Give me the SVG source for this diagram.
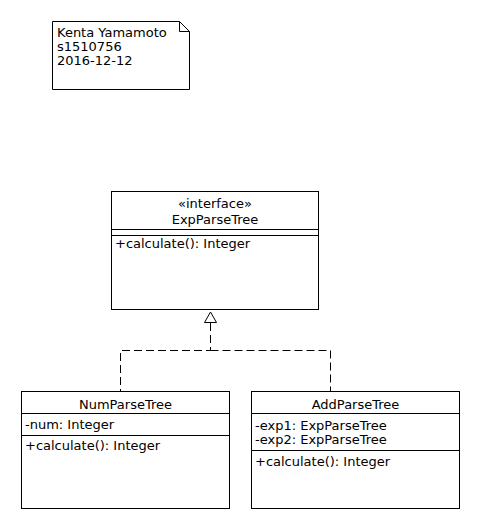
<svg xmlns="http://www.w3.org/2000/svg" width="480" height="530" viewBox="0 0 480 530">
<style>
.box{fill:#fff;stroke:#000;stroke-width:1}
.ln{stroke:#000;stroke-width:1;fill:none}
.dash{stroke:#000;stroke-width:1;fill:none;stroke-dasharray:8,4}
text{font-family:"DejaVu Sans","Liberation Sans",sans-serif;font-size:13px;fill:#000}
.c{text-anchor:middle}
</style>
<rect width="480" height="530" fill="#fff"/>
<g id="note">
<path class="box" d="M52.5,21.5 H179.5 L189.5,31.5 V89.5 H52.5 Z"/>
<path class="ln" d="M179.5,21.5 V31.5 H189.5"/>
<text x="57" y="36.5">Kenta Yamamoto</text>
<text x="57" y="50.5">s1510756</text>
<text x="57" y="64.5">2016-12-12</text>
</g>
<g id="connectors">
<path class="dash" d="M210.5,323 V350.5 H120.5 V391"/>
<path class="dash" d="M210.5,350.5 H330.5 V391"/>
<path class="box" d="M210.5,312 L216.5,322.5 H204.5 Z"/>
</g>
<g id="ExpParseTree">
<rect class="box" x="111.5" y="191.5" width="207" height="118"/>
<line class="ln" x1="111.5" y1="229.5" x2="318.5" y2="229.5"/>
<line class="ln" x1="111.5" y1="235.5" x2="318.5" y2="235.5"/>
<text class="c" x="215" y="208">«interface»</text>
<text class="c" x="215" y="224">ExpParseTree</text>
<text x="115" y="248">+calculate(): Integer</text>
</g>
<g id="NumParseTree">
<rect class="box" x="21.5" y="391.5" width="208" height="117"/>
<line class="ln" x1="21.5" y1="413.5" x2="229.5" y2="413.5"/>
<line class="ln" x1="21.5" y1="435.5" x2="229.5" y2="435.5"/>
<text class="c" x="125.5" y="409">NumParseTree</text>
<text x="25" y="429">-num: Integer</text>
<text x="25" y="450">+calculate(): Integer</text>
</g>
<g id="AddParseTree">
<rect class="box" x="251.5" y="391.5" width="208" height="117"/>
<line class="ln" x1="251.5" y1="413.5" x2="459.5" y2="413.5"/>
<line class="ln" x1="251.5" y1="450.5" x2="459.5" y2="450.5"/>
<text class="c" x="355.5" y="409">AddParseTree</text>
<text x="255" y="430">-exp1: ExpParseTree</text>
<text x="255" y="444">-exp2: ExpParseTree</text>
<text x="255" y="466">+calculate(): Integer</text>
</g>
</svg>
